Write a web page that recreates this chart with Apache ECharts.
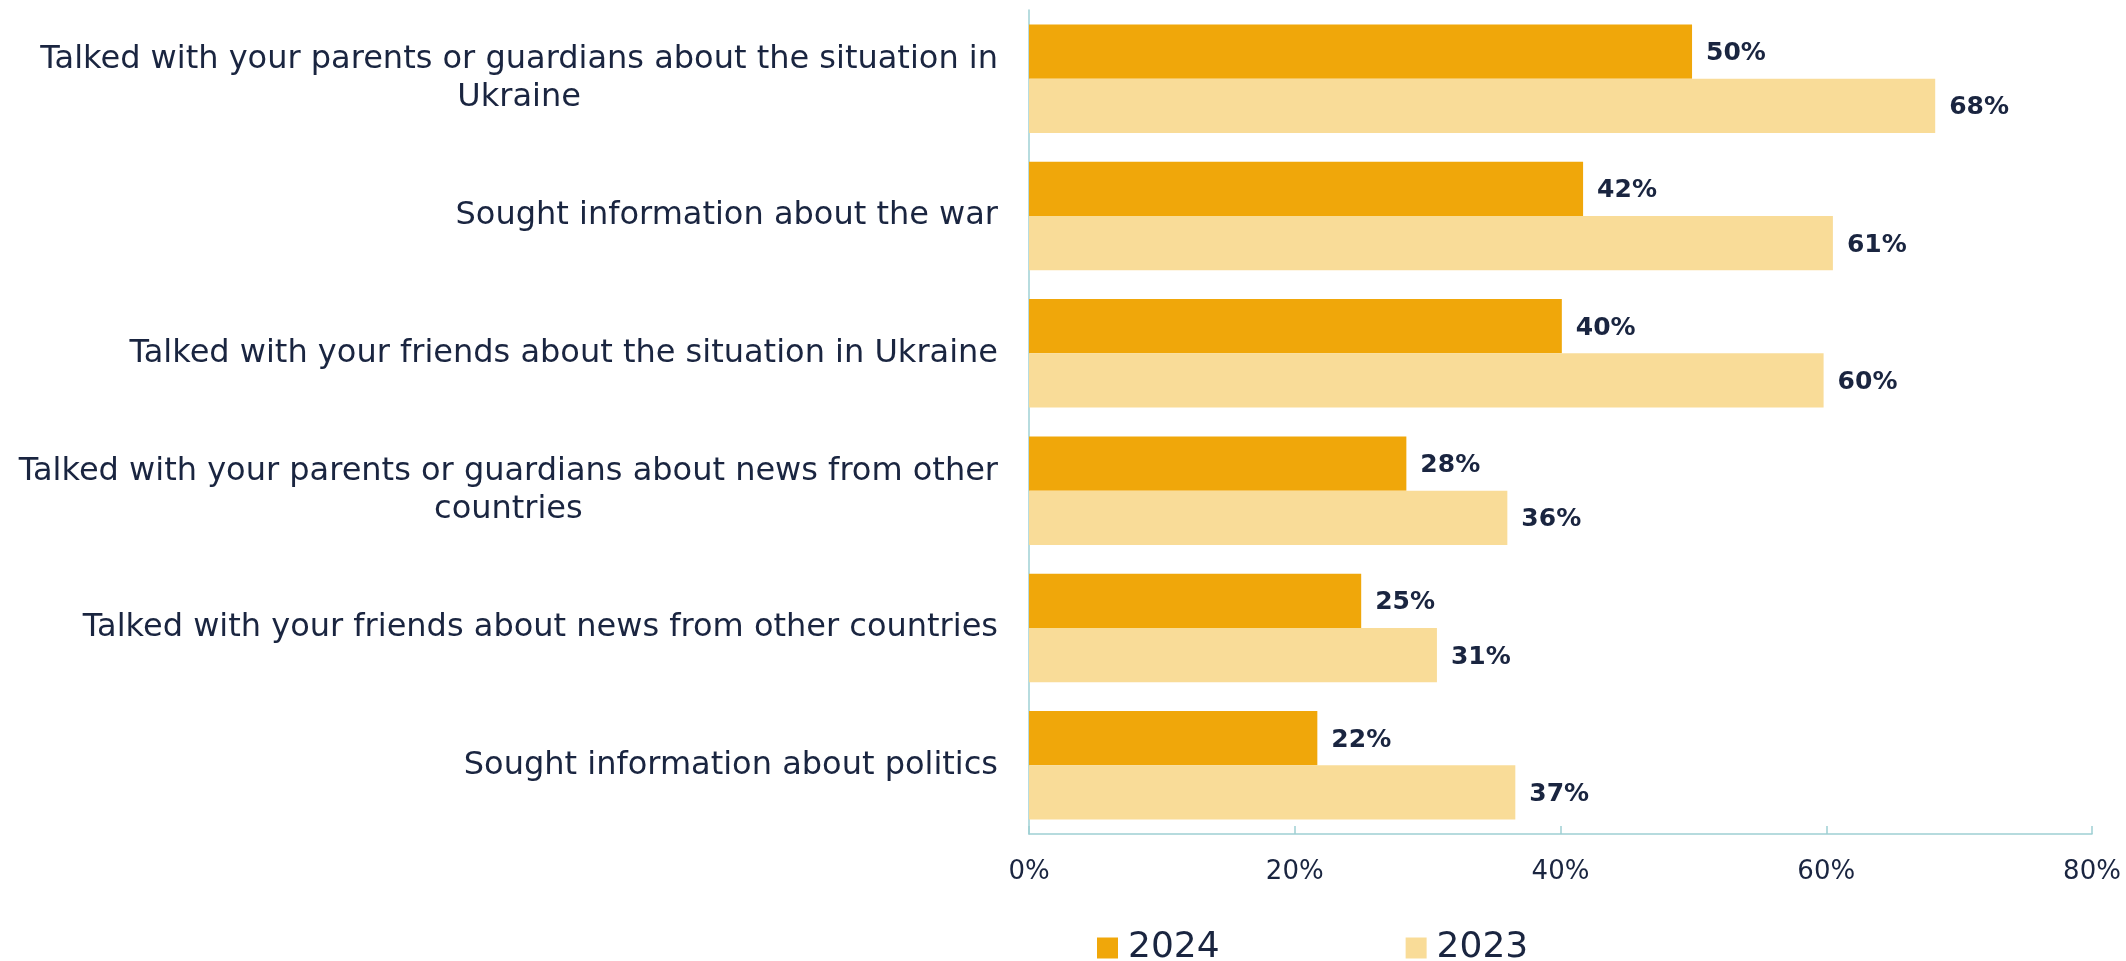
<!DOCTYPE html>
<html>
<head>
<meta charset="utf-8">
<script src="https://cdn.jsdelivr.net/npm/echarts@6/dist/echarts.min.js"></script>
<style>
html,body{margin:0;padding:0;background:#fff;}
#chart{width:2126px;height:961px;}
</style>
</head>
<body>
<div id="chart"></div>
<script>
const categories = [
  "Talked with your parents or guardians about the situation in\nUkraine",
  "Sought information about the war",
  "Talked with your friends about the situation in Ukraine",
  "Talked with your parents or guardians about news from other\ncountries",
  "Talked with your friends about news from other countries",
  "Sought information about politics"
];
const values2024 = [49.9, 41.7, 40.1, 28.4, 25.0, 21.7];
const values2023 = [68.2, 60.5, 59.8, 36.0, 30.7, 36.6];
const xTicks = [0, 20, 40, 60, 80];
const seriesNames = ["2024", "2023"];

const FONT = "'DejaVu Sans', sans-serif";
const TXT = '#1a2540';
const AXIS = '#9fd0d4';

const chart = echarts.init(document.getElementById('chart'));
chart.setOption({
  animation: false,
  grid: { left: 1029, right: 34, top: 10, bottom: 127, containLabel: false },
  legend: {
    data: seriesNames,
    left: 1092, top: 925,
    itemWidth: 21, itemHeight: 21, itemGap: 186,
    icon: 'rect',
    textStyle: { fontFamily: FONT, fontSize: 36, color: TXT, padding: [0,0,0,5] }
  },
  xAxis: {
    type: 'value', min: xTicks[0], max: xTicks[xTicks.length-1], interval: 20,
    axisLine: { show: true, lineStyle: { color: AXIS, width: 1.5 } },
    axisTick: { show: true, inside: true, length: 8, lineStyle: { color: AXIS, width: 1.5 } },
    splitLine: { show: false },
    axisLabel: { formatter: v => v + '%', fontFamily: FONT, fontSize: 26, color: TXT, margin: 25 }
  },
  yAxis: {
    type: 'category', data: categories, inverse: true,
    axisLine: { show: true, lineStyle: { color: AXIS, width: 1.5 } },
    axisTick: { show: false },
    axisLabel: {
      margin: 31,
      formatter: v => v.split('\n').map(l => '{c|' + l + '}').join('\n'),
      rich: { c: { align: 'center', fontFamily: FONT, fontSize: 32, color: TXT, lineHeight: 38 } }
    }
  },
  series: [
    {
      name: seriesNames[0], type: 'bar', data: values2024,
      barGap: '0%', barCategoryGap: '21%',
      itemStyle: { color: '#F0A70A' },
      label: { show: true, position: 'right', distance: 14, offset: [0, 2], formatter: p => Math.round(p.value) + '%',
        fontFamily: FONT, fontWeight: 'bold', fontSize: 25, color: TXT }
    },
    {
      name: seriesNames[1], type: 'bar', data: values2023,
      barGap: '0%', barCategoryGap: '21%',
      itemStyle: { color: '#F9DC98' },
      label: { show: true, position: 'right', distance: 14, offset: [0, 2], formatter: p => Math.round(p.value) + '%',
        fontFamily: FONT, fontWeight: 'bold', fontSize: 25, color: TXT }
    }
  ]
});
</script>
</body>
</html>
